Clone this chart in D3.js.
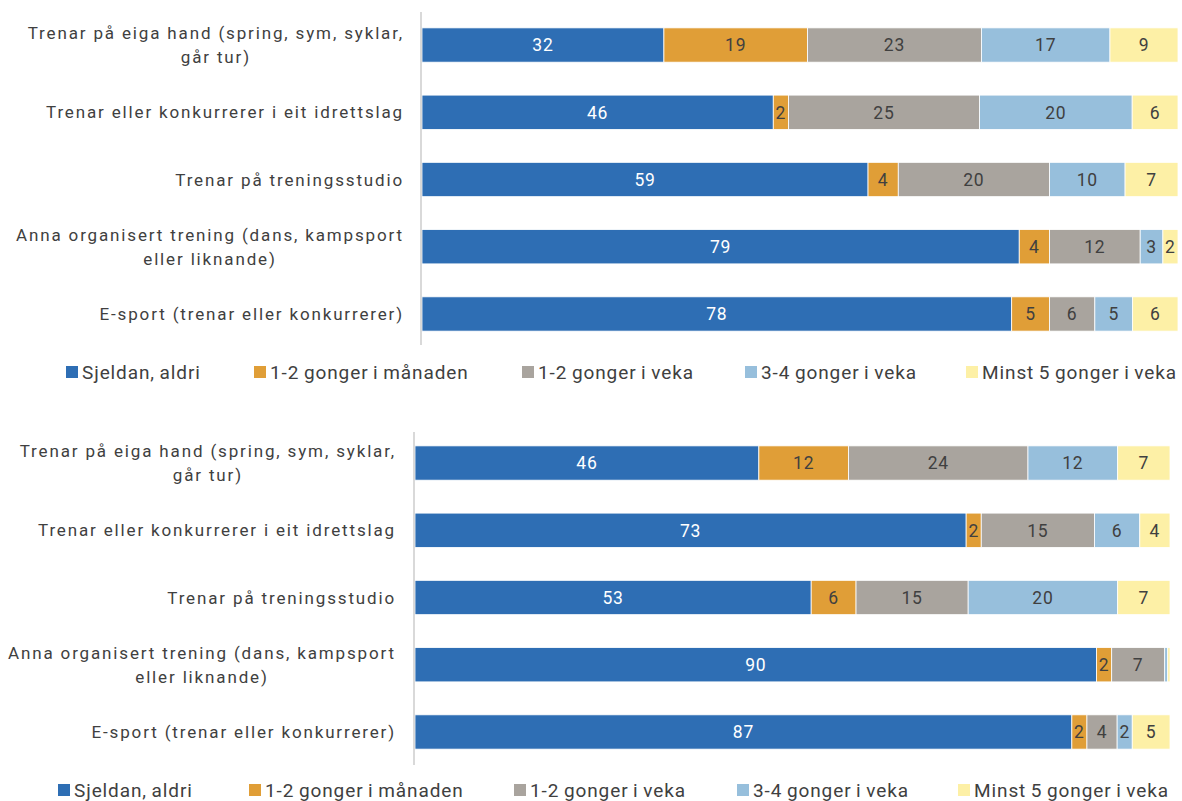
<!DOCTYPE html>
<html>
    <head>
        <title>Trening</title>
        <style>
        html, body{
            margin: 0;
            background: white;
        }
        svg{
            display: block;
            font-family: Roboto, sans-serif;
        }
        </style>
    </head>
    <body>
        <svg width="1182" height="801"></svg>

        <script src="https://cdnjs.cloudflare.com/ajax/libs/d3/7.8.5/d3.min.js"></script>
        <script>
            let categories = [
                "Trenar på eiga hand (spring, sym, syklar,|går tur)",
                "Trenar eller konkurrerer i eit idrettslag",
                "Trenar på treningsstudio",
                "Anna organisert trening (dans, kampsport|eller liknande)",
                "E-sport (trenar eller konkurrerer)"
            ];
            let series = ["Sjeldan, aldri", "1-2 gonger i månaden", "1-2 gonger i veka", "3-4 gonger i veka", "Minst 5 gonger i veka"];
            let colors = ["#2e6eb4", "#e09e37", "#a9a49e", "#97bfdc", "#fdf0a6"];

            // one row per category, values per series
            let valuesTop = [
                [32, 19, 23, 17, 9],
                [46, 2, 25, 20, 6],
                [59, 4, 20, 10, 7],
                [79, 4, 12, 3, 2],
                [78, 5, 6, 5, 6]
            ];
            let valuesBottom = [
                [46, 12, 24, 12, 7],
                [73, 2, 15, 6, 4],
                [53, 6, 15, 20, 7],
                [90, 2, 7, 0.4, 0.3],
                [87, 2, 4, 2, 5]
            ];

            let svg = d3.select("svg");

            function drawPanel(values, p) {
                let rows = values.map((v, i) => {
                    let r = {cat: categories[i]};
                    series.forEach((s, j) => r[s] = v[j]);
                    return r;
                });

                let stack = d3.stack().keys(series).offset(d3.stackOffsetExpand);
                let layers = stack(rows);

                let x = d3.scaleLinear().domain([0, 1]).range([p.x0, p.x1]);
                let y = d3.scaleBand()
                    .domain(categories)
                    .range([p.y0, p.y1])
                    .paddingInner(0.49)
                    .paddingOuter(0.245);

                let g = svg.append("g");

                let layer = g.selectAll(".layer")
                    .data(layers)
                    .enter().append("g")
                    .attr("fill", (d, i) => colors[i]);

                layer.selectAll("rect")
                    .data(d => d)
                    .enter().append("rect")
                    .attr("x", d => x(d[0]))
                    .attr("y", d => y(d.data.cat))
                    .attr("width", d => x(d[1]) - x(d[0]))
                    .attr("height", y.bandwidth())
                    .attr("stroke", "white")
                    .attr("stroke-width", 0.8);

                layer.selectAll("text")
                    .data((d, i) => d.map(e => ({e: e, i: i})))
                    .enter().filter(d => d.e.data[series[d.i]] >= 1)
                    .append("text")
                    .attr("x", d => (x(d.e[0]) + x(d.e[1])) / 2)
                    .attr("y", d => y(d.e.data.cat) + y.bandwidth() / 2)
                    .attr("dy", "0.36em")
                    .attr("text-anchor", "middle")
                    .attr("font-size", 17.5)
                    .attr("letter-spacing", 0.8)
                    .attr("fill", d => d.i == 0 ? "white" : "#404040")
                    .text(d => d.e.data[series[d.i]]);

                // axis line
                g.append("line")
                    .attr("x1", p.x0 - 1).attr("x2", p.x0 - 1)
                    .attr("y1", p.axisTop).attr("y2", p.axisBottom)
                    .attr("stroke", "#d9d9d9")
                    .attr("stroke-width", 2);

                // category labels, wrapped lines centred on the longest one
                categories.forEach(c => {
                    let lines = c.split("|");
                    let t = g.append("text")
                        .attr("font-size", 17)
                        .attr("letter-spacing", 1.85)
                        .attr("fill", "#404040")
                        .attr("text-anchor", "middle");
                    let cy = y(c) + y.bandwidth() / 2;
                    lines.forEach((l, k) => {
                        t.append("tspan")
                            .attr("y", cy + (k - (lines.length - 1) / 2) * 24)
                            .attr("dy", "0.36em")
                            .text(l);
                    });
                    let w = d3.max(t.selectAll("tspan").nodes(), n => n.getComputedTextLength());
                    t.selectAll("tspan").attr("x", p.labelRight - w / 2);
                });

                // legend
                let lg = g.append("g");
                series.forEach((s, i) => {
                    lg.append("rect")
                        .attr("x", p.legendX[i])
                        .attr("y", p.legendY - 6)
                        .attr("width", 12).attr("height", 12)
                        .attr("fill", colors[i]);
                    lg.append("text")
                        .attr("x", p.legendX[i] + 16)
                        .attr("y", p.legendY)
                        .attr("dy", "0.36em")
                        .attr("font-size", 19)
                        .attr("letter-spacing", 0.9)
                        .attr("word-spacing", -1)
                        .attr("fill", "#404040")
                        .text(s);
                });
            }

            drawPanel(valuesTop, {
                x0: 422, x1: 1178, y0: 11.4, y1: 347.6,
                axisTop: 12, axisBottom: 345,
                labelRight: 404,
                legendY: 372,
                legendX: [66, 254, 522, 745, 966]
            });

            drawPanel(valuesBottom, {
                x0: 415, x1: 1170, y0: 429.4, y1: 765.6,
                axisTop: 432, axisBottom: 765,
                labelRight: 396,
                legendY: 790,
                legendX: [58, 249, 514, 737, 958]
            });
        </script>
    </body>
</html>
